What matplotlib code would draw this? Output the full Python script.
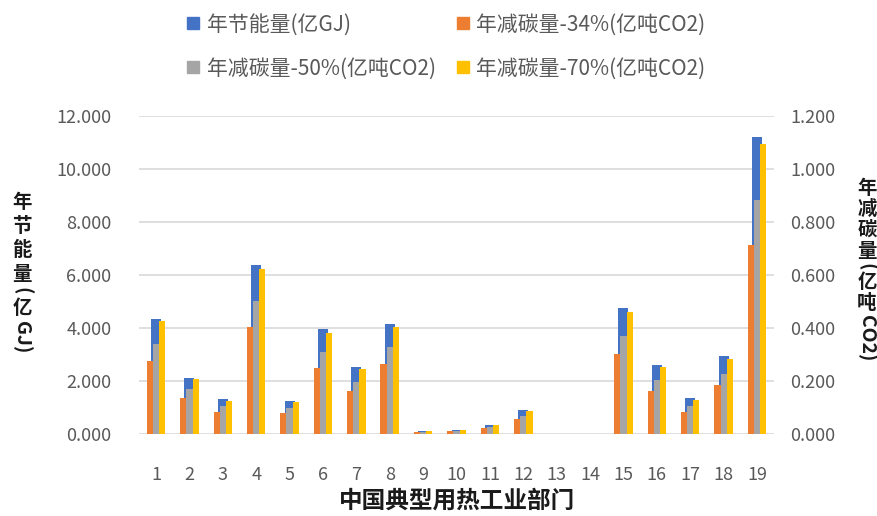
import matplotlib
matplotlib.use('Agg')
import matplotlib.pyplot as plt
from matplotlib.lines import Line2D
import numpy as np

plt.rcParams['font.family'] = ['Noto Sans CJK SC', 'DejaVu Sans']

# 数据
sectors = [str(i) for i in range(1, 20)]
energy = [4.34, 2.11, 1.31, 6.39, 1.26, 3.97, 2.52, 4.16, 0.12, 0.15,
          0.35, 0.89, 0.0, 0.0, 4.74, 2.59, 1.35, 2.93, 11.22]
co2_34 = [0.275, 0.135, 0.082, 0.405, 0.078, 0.250, 0.162, 0.264, 0.008, 0.010,
          0.022, 0.057, 0.0, 0.0, 0.302, 0.163, 0.082, 0.186, 0.713]
co2_50 = [0.341, 0.169, 0.106, 0.503, 0.097, 0.308, 0.197, 0.329, 0.009, 0.012,
          0.028, 0.069, 0.0, 0.0, 0.371, 0.204, 0.106, 0.226, 0.883]
co2_70 = [0.425, 0.209, 0.126, 0.621, 0.121, 0.382, 0.245, 0.405, 0.012, 0.015,
          0.034, 0.086, 0.0, 0.0, 0.460, 0.252, 0.128, 0.283, 1.094]

labels = ['年节能量(亿GJ)', '年减碳量-34%(亿吨CO2)',
          '年减碳量-50%(亿吨CO2)', '年减碳量-70%(亿吨CO2)']
colors = ['#4472C4', '#ED7D31', '#A5A5A5', '#FFC000']

W, H = 878, 516
fig = plt.figure(figsize=(W / 100, H / 100), dpi=100)
ax = fig.add_axes([0.1587, 0.1589, 0.7225, 0.6163])
ax2 = ax.twinx()
ax2.set_position(ax.get_position())

x = np.arange(1, len(sectors) + 1)
ax.bar(x, energy, width=0.3, color=colors[0], zorder=2)
w = 0.185
for i, vals in enumerate([co2_34, co2_50, co2_70]):
    ax2.bar(x + (i - 1) * w, vals, width=w, color=colors[i + 1], zorder=2)

ax.set_xlim(0.5, 19.5)
ax.set_ylim(0, 12)
ax2.set_ylim(0, 1.2)
ax.set_yticks(np.arange(0, 12.1, 2))
ax2.set_yticks(np.arange(0, 1.21, 0.2))
ax.set_yticklabels([f'{v:.3f}' for v in np.arange(0, 12.1, 2)])
ax2.set_yticklabels([f'{v:.3f}' for v in np.arange(0, 1.21, 0.2)])
ax.set_xticks(x)
ax.set_xticklabels(sectors)

ax.grid(axis='y', color='#D9D9D9', linewidth=1.2, zorder=0)
ax.set_axisbelow(True)
for a in (ax, ax2):
    for s in a.spines.values():
        s.set_visible(False)
    a.tick_params(length=0, colors='#595959', labelsize=13)
ax.tick_params(axis='y', pad=20)
ax.tick_params(axis='x', pad=23)
ax2.tick_params(axis='y', pad=12)

fig.text(457 / W, 1 - 501 / H, '中国典型用热工业部门', ha='center', va='center',
         fontsize=17, fontweight='bold', color='#1a1a1a')


def is_cjk(ch):
    return ord(ch[0]) > 0x2E80


def vlabel(s, xc, ytop, size, pitch):
    # 竖排文字: 汉字直立, 其余旋转
    renderer = fig.canvas.get_renderer()
    runs = []
    for ch in s:
        if is_cjk(ch) or not runs or is_cjk(runs[-1][-1]):
            runs.append(ch)
        else:
            runs[-1] += ch
    y = ytop
    for r in runs:
        if is_cjk(r):
            fig.text(xc / W, 1 - (y + pitch / 2) / H, r, ha='center', va='center',
                     fontsize=size, fontweight='bold', color='#1a1a1a')
            y += pitch
        else:
            t = fig.text(xc / W, 1 - (y + 1) / H, r, ha='center', va='top', rotation=270,
                         fontsize=size, fontweight='bold', color='#1a1a1a')
            h = t.get_window_extent(renderer).height
            y += h + 3


vlabel('年节能量(亿GJ)', 22, 190, 14, 24)
vlabel('年减碳量(亿吨CO2)', 867, 178, 14, 21)

# 图例按行排列
order = [0, 2, 1, 3]
handles = [Line2D([], [], marker='s', linestyle='none', markersize=8,
                  color=colors[i]) for i in order]
fig.legend(handles, [labels[i] for i in order], loc='upper left',
           bbox_to_anchor=(168 / W, 1 + 5 / H),
           ncol=2, frameon=False, fontsize=15, handlelength=0.6, handletextpad=0.35,
           columnspacing=1.0, labelspacing=1.05, labelcolor='#595959')

fig.savefig('out.png', dpi=100)
